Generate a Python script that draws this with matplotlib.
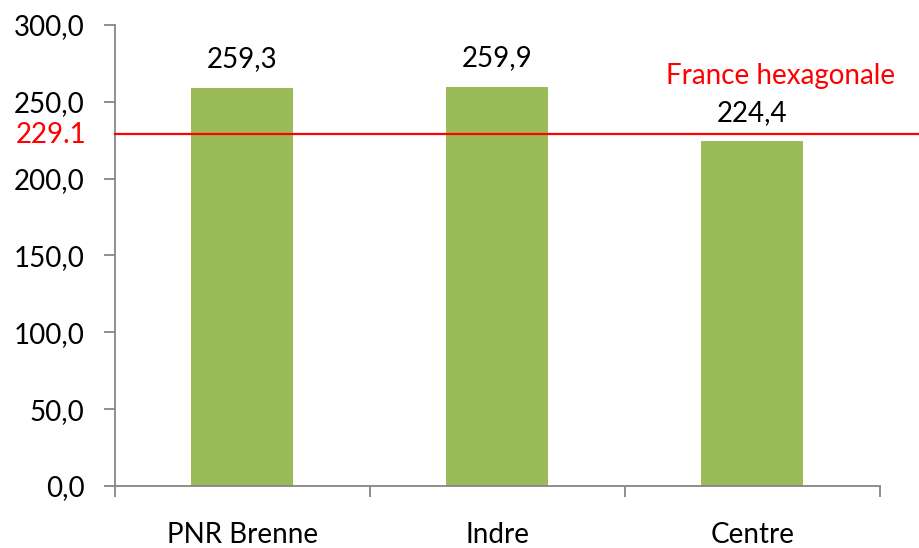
import matplotlib.pyplot as plt
import numpy as np

categories = ['PNR Brenne', 'Indre', 'Centre']
values = [259.3, 259.9, 224.4]
ref_value = 229.1
ref_label = 'France hexagonale'
y_ticks = [0, 50, 100, 150, 200, 250, 300]

plt.rcParams['font.family'] = ['Lato', 'DejaVu Sans']

fig = plt.figure(figsize=(9.2, 5.48), dpi=100)
ax = fig.add_axes([115/920, 1 - 486/548, 765/920, 461/548])

x = np.arange(len(categories))
bars = ax.bar(x, values, width=0.4, color='#9BBB59', zorder=2)

for xi, v in zip(x, values):
    ax.annotate(f'{v:.1f}'.replace('.', ','), (xi, v), xytext=(0, 11),
                textcoords='offset points', ha='center', va='bottom', fontsize=20)

# reference line, goes past the right edge of the axes
ax.plot([-0.5, 2.85], [ref_value, ref_value], color='red', lw=1.6,
        clip_on=False, zorder=3)
ax.text(-0.61, ref_value - 1, f'{ref_value}', color='red', fontsize=20,
        ha='right', va='center')
ax.text(2.11, 267, ref_label, color='red', fontsize=20, ha='center', va='center')

ax.set_xlim(-0.5, 2.5)
ax.set_ylim(0, 300)
ax.set_yticks(y_ticks)
ax.set_yticklabels([f'{t:.1f}'.replace('.', ',') for t in y_ticks], fontsize=20)

ax.set_xticks([-0.5, 0.5, 1.5, 2.5])
ax.set_xticklabels([])
ax.set_xticks(x, minor=True)
ax.set_xticklabels(categories, minor=True, fontsize=20)
ax.tick_params(axis='x', which='minor', length=0, pad=26)
ax.tick_params(axis='x', which='major', length=8, color='#868686', width=1.3)
ax.tick_params(axis='y', length=8, color='#868686', width=1.3, pad=14)

for s in ['top', 'right']:
    ax.spines[s].set_visible(False)
for s in ['left', 'bottom']:
    ax.spines[s].set_color('#868686')
    ax.spines[s].set_linewidth(1.3)

fig.savefig('out.png', dpi=100)
